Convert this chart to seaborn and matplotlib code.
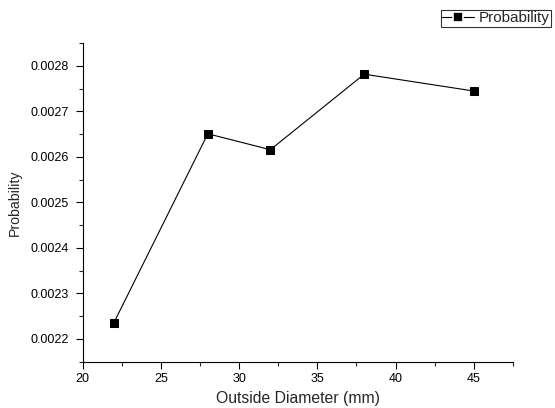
import pandas as pd
import matplotlib
matplotlib.use("Agg")
import matplotlib.pyplot as plt
import seaborn as sns
from matplotlib.ticker import MultipleLocator, FormatStrFormatter

# values
diameter = [22, 28, 32, 38, 45]
probability = [0.002236, 0.002651, 0.002616, 0.002782, 0.002745]


def plot_probability():
    df = pd.DataFrame({"Outside Diameter (mm)": diameter, "Probability": probability})

    sns.set_style("ticks")
    plt.rcParams["font.family"] = ["Liberation Sans", "DejaVu Sans"]

    fig = plt.figure(figsize=(5.55, 4.08), dpi=100)
    ax = fig.add_axes([0.149, 0.1135, 0.775, 0.7805])

    sns.lineplot(x="Outside Diameter (mm)", y="Probability", data=df, ax=ax,
                 color="black", linewidth=0.8, marker="s", markersize=5.3,
                 markeredgecolor="black", label="Probability")

    ax.set_xlim(20, 47.5)
    ax.set_ylim(0.00215, 0.00285)
    ax.xaxis.set_major_locator(MultipleLocator(5))
    ax.xaxis.set_minor_locator(MultipleLocator(2.5))
    ax.yaxis.set_major_locator(MultipleLocator(0.0001))
    ax.yaxis.set_minor_locator(MultipleLocator(0.00005))
    ax.yaxis.set_major_formatter(FormatStrFormatter("%.4f"))

    ax.tick_params(which="major", direction="out", length=5, width=0.8,
                   labelsize=9, colors="black")
    ax.tick_params(axis="y", which="major", pad=5)
    ax.tick_params(which="minor", direction="out", length=3, width=0.8)

    # only left and bottom axes
    sns.despine(ax=ax)
    for side in ["left", "bottom"]:
        ax.spines[side].set_linewidth(0.8)
        ax.spines[side].set_color("black")

    ax.set_xlabel("Outside Diameter (mm)", fontsize=11.3, labelpad=4)
    ax.set_ylabel("Probability", fontsize=10.2, labelpad=6)

    # legend sits above the plot at the top right
    leg = ax.legend(loc="upper right", bbox_to_anchor=(0.993, 0.976),
                    bbox_transform=fig.transFigure, fontsize=11,
                    frameon=True, fancybox=False, handlelength=2.1,
                    handletextpad=0.3, borderpad=0.1, borderaxespad=0)
    leg.get_frame().set_edgecolor("black")
    leg.get_frame().set_linewidth(0.8)
    # small white gap around the legend marker, like the original
    for h in leg.legend_handles:
        h.set_markeredgecolor("white")
        h.set_markeredgewidth(1.2)
        h.set_markersize(6.5)

    plt.savefig("out.png", dpi=100)


def main():
    plot_probability()


if __name__ == "__main__":
    main()
